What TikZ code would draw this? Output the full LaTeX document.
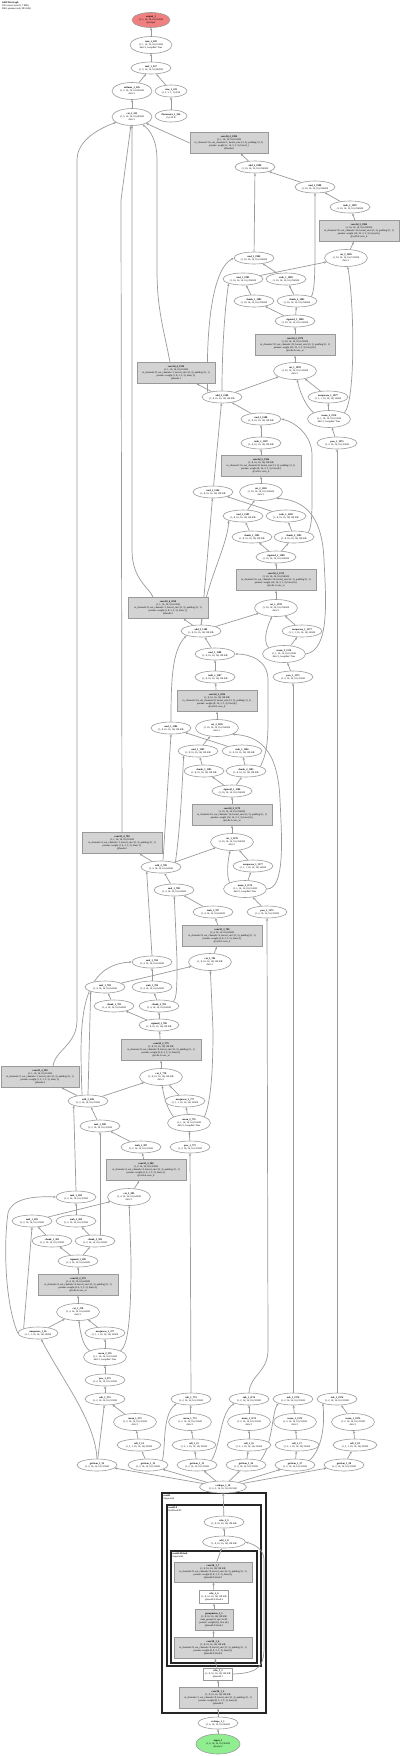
\documentclass[tikz,border=0pt]{standalone}
\usepackage{fontspec}
\setmainfont{Liberation Serif}
\usetikzlibrary{shapes.geometric,arrows.meta}
\definecolor{eg}{HTML}{9A9A9A}
\definecolor{bf}{HTML}{D3D3D3}
\definecolor{bd}{HTML}{999999}
\definecolor{outred}{HTML}{F08080}
\definecolor{ingreen}{HTML}{90EE90}
\pgfdeclarelayer{bg}
\pgfsetlayers{bg,main}
\newcommand{\nd}[2]{\textbf{#1}\\#2}
\newcommand{\cv}[5]{\textbf{#1}\\#2\\in\_channels=#3, out\_channels=#4, kernel\_size=(3, 3), padding=(1, 1)\\params: weight (#4, #3, 3, 3, 3), bias (#4,)\\#5}
\newcommand{\shAa}{(1, 16, 16, 16, 16) 256 KB}
\newcommand{\shAb}{(1, 32, 16, 16, 16) 512 KB}
\newcommand{\shBa}{(1, 8, 16, 16, 16) 128 KB}
\newcommand{\shBb}{(1, 16, 16, 16, 16) 256 KB}
\newcommand{\shCa}{(1, 4, 16, 16, 16) 64 KB}
\newcommand{\shCb}{(1, 8, 16, 16, 16) 128 KB}
\newcommand{\shEa}{(1, 2, 16, 16, 16) 32 KB}
\newcommand{\shEb}{(1, 4, 16, 16, 16) 64 KB}
\newcommand{\shM}{(1, 1, 16, 16, 16) 16 KB}
\newcommand{\shU}{(1, 1, 1, 16, 16, 16) 16 KB}
\newcommand{\shP}{(1, 2, 16, 16, 16) 32 KB}
\tikzset{
  every node/.style={font=\fontsize{2.5}{3}\selectfont},
  ell/.style={ellipse, draw=eg, fill=white, line width=0.6pt, minimum width=40, minimum height=12, inner sep=0pt, align=center},
  ellw/.style={ell, minimum width=44},
  ell3/.style={ell, minimum width=43, minimum height=17},
  gbox/.style={rectangle, draw=bd, fill=bf, line width=0.6pt, minimum width=80, minimum height=21, inner sep=0pt, align=center},
  wbox/.style={rectangle, draw=eg, fill=white, line width=0.6pt, minimum width=29, minimum height=13, inner sep=0.5pt, align=center},
  edge/.style={draw=eg, line width=0.7pt, -{Stealth[length=2.6pt,width=2.2pt]}},
  clus/.style={draw=black!85, line width=1.1pt},
  lab/.style={anchor=north west, align=left, inner sep=0pt},
}
\begin{document}
\begin{tikzpicture}[x=1pt,y=-1pt]
\useasboundingbox (0,0) rectangle (400,1756);
\node[lab] (hdr) at (2,2) {\textbf{GRUNetGraph}\\226 tensors total (1.7 MB)\\9865 params total (38.5 KB)};
% final stack
\node[ell, fill=outred, minimum width=38, minimum height=15] (out) at (151,20) {\nd{output\_1}{\shM}\\@output};
\node[ell3, minimum width=42] (sumT) at (151,45) {\nd{sum\_1\_228}{\shM}\\dim=1, keepdim=True};
\node[ell] (addT) at (151,68) {\nd{mul\_1\_227}{(1, 5, 16, 16, 16) 80 KB}};
\node[ell3, minimum width=40] (soft) at (132,91) {\nd{softmax\_1\_226}{(1, 5, 16, 16, 16) 80 KB}\\dim=1};
\node[ell, minimum width=32] (viewR) at (171,91) {\nd{view\_1\_225}{(1, 5, 1, 1, 1) 20 B}};
\node[ell, minimum width=32] (param) at (171,116) {\nd{Parameter\_1\_224}{(5,) 20 B}};
\node[ell3, minimum width=40] (catF) at (132,117) {\nd{cat\_2\_223}{(1, 5, 16, 16, 16) 80 KB}\\dim=1};
% level 1
\node[gbox, minimum width=78] (H1) at (229,143) {\cv{conv3d\_4\_1990}{\shM}{16}{1}{@heads.0}};
\node[ell] (A1) at (255,167) {\nd{add\_2\_1989}{\shAa}};
\node[ell] (MZ1) at (315,187) {\nd{mul\_1\_1988}{\shAa}};
\node[ell] (TO1) at (350,207) {\nd{tanh\_1\_1987}{\shAa}};
\node[gbox] (CO1) at (359,231) {\cv{conv3d\_3\_1986}{\shAa}{32}{16}{@cells.0.conv\_h}};
\node[ell3] (CTO1) at (346,258) {\nd{cat\_2\_1985}{\shAb}\\dim=1};
\node[ell] (MC1) at (254,258) {\nd{mul\_1\_1984}{\shAa}};
\node[ell] (MR1) at (243,279) {\nd{mul\_1\_1983}{\shAa}};
\node[ell] (RS1) at (286,279) {\nd{rsub\_1\_1982}{\shAa}};
\node[ell] (CH11) at (254,301) {\nd{chunk\_1\_1981}{\shAa}};
\node[ell] (CH21) at (297,301) {\nd{chunk\_2\_1981}{\shAa}};
\node[ell] (SG1) at (295,321) {\nd{sigmoid\_1\_1980}{\shAb}};
\node[gbox] (GC1) at (295,345) {\cv{conv3d\_2\_1979}{\shAb}{32}{32}{@cells.0.conv\_zr}};
\node[ell3] (CT11) at (295,371) {\nd{cat\_1\_1978}{\shAb}\\dim=1};
\node[ell] (UQ1) at (328,397) {\nd{unsqueeze\_1\_1977}{\shU}};
\node[ell3] (MN1) at (329,419) {\nd{mean\_2\_1976}{\shM}\\dim=1, keepdim=True};
\node[ell] (PW1) at (337,443) {\nd{pow\_1\_1975}{\shP}};
% level 2
\node[gbox, minimum width=78] (H2) at (176,373) {\cv{conv3d\_4\_1590}{\shM}{8}{1}{@heads.1}};
\node[ell] (A2) at (222,397) {\nd{add\_2\_1589}{\shBa}};
\node[ell] (MZ2) at (261,419) {\nd{mul\_1\_1588}{\shBa}};
\node[ell] (TO2) at (261,443) {\nd{tanh\_1\_1587}{\shBa}};
\node[gbox] (CO2) at (261,466) {\cv{conv3d\_3\_1586}{\shBa}{16}{8}{@cells.1.conv\_h}};
\node[ell3] (CTO2) at (261,492) {\nd{cat\_2\_1585}{\shBb}\\dim=1};
\node[ell] (MC2) at (213,492) {\nd{mul\_1\_1584}{\shBa}};
\node[ell] (MR2) at (243,516) {\nd{mul\_1\_1583}{\shBa}};
\node[ell] (RS2) at (286,516) {\nd{rsub\_1\_1582}{\shBa}};
\node[ell] (CH12) at (252,537) {\nd{chunk\_1\_1581}{\shBa}};
\node[ell] (CH22) at (294,537) {\nd{chunk\_2\_1581}{\shBa}};
\node[ell] (SG2) at (276,557) {\nd{sigmoid\_1\_1580}{\shBb}};
\node[gbox] (GC2) at (276,580) {\cv{conv3d\_2\_1579}{\shBb}{16}{16}{@cells.1.conv\_zr}};
\node[ell3] (CT12) at (276,608) {\nd{cat\_1\_1578}{\shBb}\\dim=1};
\node[ell] (UQ2) at (302,631) {\nd{unsqueeze\_1\_1577}{\shU}};
\node[ell3] (MN2) at (284,654) {\nd{mean\_2\_1576}{\shM}\\dim=1, keepdim=True};
\node[ell] (PW2) at (293,677) {\nd{pow\_1\_1575}{\shP}};
% level 3
\node[gbox] (H3) at (168,608) {\cv{conv3d\_4\_1190}{\shM}{8}{1}{@heads.2}};
\node[ell] (A3) at (201,631) {\nd{add\_2\_1189}{\shCb}};
\node[ell] (MZ3) at (215,654) {\nd{mul\_1\_1188}{\shCb}};
\node[ell] (TO3) at (215,677) {\nd{tanh\_1\_1187}{\shCb}};
\node[gbox] (CO3) at (217,701) {\cv{conv3d\_3\_1186}{\shCb}{16}{8}{@cells.2.conv\_h}};
\node[ell3] (CTO3) at (217,728) {\nd{cat\_2\_1185}{\shBb}\\dim=1};
\node[ell] (MC3) at (171,728) {\nd{mul\_1\_1184}{\shCb}};
\node[ell] (MR3) at (198,751) {\nd{mul\_1\_1183}{\shCb}};
\node[ell] (RS3) at (242,751) {\nd{rsub\_1\_1182}{\shCb}};
\node[ell] (CH13) at (204,771) {\nd{chunk\_1\_1181}{\shCb}};
\node[ell] (CH23) at (246,771) {\nd{chunk\_2\_1181}{\shCb}};
\node[ell] (SG3) at (232,791) {\nd{sigmoid\_1\_1180}{\shBb}};
\node[gbox] (GC3) at (232,815) {\cv{conv3d\_2\_1179}{\shBb}{16}{16}{@cells.2.conv\_zr}};
\node[ell3] (CT13) at (232,842) {\nd{cat\_1\_1178}{\shBb}\\dim=1};
\node[ell] (UQ3) at (253,866) {\nd{unsqueeze\_1\_1177}{\shU}};
\node[ell3] (MN3) at (245,889) {\nd{mean\_2\_1176}{\shM}\\dim=1, keepdim=True};
\node[ell] (PW3) at (267,912) {\nd{pow\_1\_1175}{\shP}};
% level 4
\node[gbox] (H4) at (122,843) {\cv{conv3d\_4\_790}{\shM}{4}{1}{@heads.3}};
\node[ell] (A4) at (161,867) {\nd{add\_2\_789}{\shCa}};
\node[ell] (MZ4) at (174,890) {\nd{mul\_1\_788}{\shCa}};
\node[ell] (TO4) at (213,912) {\nd{tanh\_1\_787}{\shCa}};
\node[gbox] (CO4) at (222,936) {\cv{conv3d\_3\_786}{\shCa}{8}{4}{@cells.3.conv\_h}};
\node[ell3] (CTO4) at (210,962) {\nd{cat\_2\_785}{\shCb}\\dim=1};
\node[ell] (MC4) at (152,962) {\nd{mul\_1\_784}{\shCa}};
\node[ell] (MR4) at (105,987) {\nd{mul\_1\_783}{\shCa}};
\node[ell] (RS4) at (152,987) {\nd{rsub\_1\_782}{\shCa}};
\node[ell] (CH14) at (114,1006) {\nd{chunk\_1\_781}{\shCa}};
\node[ell] (CH24) at (159,1006) {\nd{chunk\_2\_781}{\shCa}};
\node[ell] (SG4) at (159,1025) {\nd{sigmoid\_1\_780}{\shCb}};
\node[gbox] (GC4) at (161,1050) {\cv{conv3d\_2\_779}{\shCb}{8}{8}{@cells.3.conv\_zr}};
\node[ell3] (CT14) at (161,1077) {\nd{cat\_1\_778}{\shCb}\\dim=1};
\node[ell] (UQ4) at (185,1101) {\nd{unsqueeze\_1\_777}{\shU}};
\node[ell3] (MN4) at (189,1123) {\nd{mean\_2\_776}{\shM}\\dim=1, keepdim=True};
\node[ell] (PW4) at (190,1147) {\nd{pow\_1\_775}{\shP}};
% level 5
\node[gbox, minimum width=78] (H5) at (40,1077) {\cv{conv3d\_4\_390}{\shM}{2}{1}{@heads.4}};
\node[ell] (A5) at (88,1101) {\nd{add\_2\_389}{\shEa}};
\node[ell] (MZ5) at (100,1126) {\nd{mul\_1\_388}{\shEa}};
\node[ell] (TO5) at (141,1147) {\nd{tanh\_1\_387}{\shEa}};
\node[gbox] (CO5) at (146,1170) {\cv{conv3d\_3\_386}{\shEa}{4}{2}{@cells.4.conv\_h}};
\node[ell3] (CTO5) at (129,1197) {\nd{cat\_2\_385}{\shEb}\\dim=1};
\node[ell] (MC5) at (76,1197) {\nd{mul\_1\_384}{\shEa}};
\node[ell] (MR5) at (32,1221) {\nd{mul\_1\_383}{\shEa}};
\node[ell] (RS5) at (76,1221) {\nd{rsub\_1\_382}{\shEa}};
\node[ell] (CH15) at (52,1241) {\nd{chunk\_1\_381}{\shEa}};
\node[ell] (CH25) at (95,1241) {\nd{chunk\_2\_381}{\shEa}};
\node[ell] (SG5) at (78,1261) {\nd{sigmoid\_1\_380}{\shEb}};
\node[gbox] (GC5) at (78,1285) {\cv{conv3d\_2\_379}{\shEb}{4}{4}{@cells.4.conv\_zr}};
\node[ell3] (CT15) at (78,1312) {\nd{cat\_1\_378}{\shEb}\\dim=1};
\node[ell] (UQL) at (38,1333) {\nd{unsqueeze\_1\_36}{\shU}};
\node[ell] (UQ5) at (105,1333) {\nd{unsqueeze\_1\_377}{\shU}};
\node[ell3] (MN5) at (105,1357) {\nd{mean\_2\_376}{\shM}\\dim=1, keepdim=True};
\node[ell] (PW5) at (105,1380) {\nd{pow\_1\_375}{\shP}};
% bottom rows
\node[ell] (SB5) at (105,1399) {\nd{sub\_1\_374}{\shP}};
\node[ell] (SB4) at (191,1399) {\nd{sub\_1\_774}{\shP}};
\node[ell] (SB3) at (249,1399) {\nd{sub\_1\_1174}{\shP}};
\node[ell] (SB2) at (293,1399) {\nd{sub\_1\_1574}{\shP}};
\node[ell] (SB1) at (337,1399) {\nd{sub\_1\_1974}{\shP}};
\node[ell3] (M15) at (135,1422) {\nd{mean\_1\_373}{\shP}\\dim=1};
\node[ell3] (M14) at (190,1422) {\nd{mean\_1\_773}{\shP}\\dim=1};
\node[ell3] (M13) at (249,1422) {\nd{mean\_1\_1173}{\shP}\\dim=1};
\node[ell3] (M12) at (295,1422) {\nd{mean\_1\_1573}{\shP}\\dim=1};
\node[ell3] (M11) at (353,1422) {\nd{mean\_1\_1973}{\shP}\\dim=1};
\node[ellw] (CL5) at (139,1445) {\nd{cell\_1\_14}{(1, 2, 1, 16, 16, 16) 32 KB}};
\node[ellw] (CL4) at (194,1445) {\nd{cell\_1\_15}{(1, 2, 1, 16, 16, 16) 32 KB}};
\node[ellw] (CL3) at (249,1445) {\nd{cell\_1\_16}{(1, 2, 1, 16, 16, 16) 32 KB}};
\node[ellw] (CL2) at (297,1445) {\nd{cell\_1\_17}{(1, 2, 1, 16, 16, 16) 32 KB}};
\node[ellw] (CL1) at (355,1445) {\nd{cell\_1\_18}{(1, 2, 1, 16, 16, 16) 32 KB}};
\node[ell] (GI0) at (97,1465) {\nd{getitem\_1\_32}{\shP}};
\node[ell] (GI1) at (148,1465) {\nd{getitem\_1\_12}{\shP}};
\node[ell] (GI2) at (197,1465) {\nd{getitem\_1\_13}{\shP}};
\node[ell] (GI3) at (246,1465) {\nd{getitem\_1\_26}{\shP}};
\node[ell] (GI4) at (295,1465) {\nd{getitem\_1\_27}{\shP}};
\node[ell] (GI5) at (344,1465) {\nd{getitem\_1\_28}{\shP}};
\node[ell, minimum width=47] (RSH) at (223,1487) {\nd{reshape\_1\_10}{(1, 6, 2, 16, 16, 16) 192 KB}};
% cluster nodes
\node[ell] (RL2) at (224,1522) {\nd{relu\_2\_9}{\shBa}};
\node[ell, minimum width=43] (AD1) at (224,1542) {\nd{add\_1\_8}{\shBa}};
\node[gbox, minimum width=78, minimum height=20] (C7) at (213,1572) {\cv{conv3d\_1\_7}{\shBa}{8}{8}{@model.0.block.3}};
\node[wbox] (R6) at (214,1597) {\textbf{relu\_1\_6}\\\shBa\\@model.0.block.2};
\node[gbox, minimum width=38] (GN) at (214,1620) {\textbf{groupnorm\_1\_5}\\\shBa\\num\_groups=4, eps=1e-05\\params: weight (8,), bias (8,)\\@model.0.block.1};
\node[gbox, minimum width=78] (C4) at (213,1648) {\cv{conv3d\_1\_4}{\shBa}{8}{8}{@model.0.block.0}};
\node[wbox, minimum height=12] (R3) at (218,1674) {\textbf{relu\_1\_3}\\\shBa\\@model.1};
\node[gbox, minimum width=78] (C2) at (218,1698) {\cv{conv3d\_1\_2}{\shBa}{1}{8}{@model.0}};
\node[ell] (RSb) at (218,1723) {\nd{reshape\_1\_1}{(1, 6, 16, 16, 16) 96 KB}};
\node[ell, fill=ingreen, minimum width=44, minimum height=20] (IN) at (218,1744) {\nd{input\_1}{(1, 6, 16, 16, 16) 96 KB}\\@input.x};
\node[lab] (cl1) at (163.5,1494.5) {\textbf{model}\\Sequential};
\node[lab] (cl2) at (168.5,1506.5) {\textbf{model.0}\\ResBlock3D};
\node[lab] (cl3) at (172.5,1552.5) {\textbf{model.0.block}\\Sequential};

\begin{pgfonlayer}{bg}
\draw[clus] (162,1493) rectangle (266,1713);
\draw[clus] (167,1505) rectangle (261,1666);
\draw[clus] (171,1551) rectangle (257,1663);
% final
\draw[edge] (catF) -- (soft);
\draw[edge] (soft) -- (addT);
\draw[edge] (param) -- (viewR);
\draw[edge] (viewR) -- (addT);
\draw[edge] (addT) -- (sumT);
\draw[edge] (sumT) -- (out);
\draw[edge] (H1.west) -- (catF);
\draw[edge] ([xshift=-6]H2.north) .. controls (164,330) and (157,310) .. (157,270) -- (157,160) .. controls (157,140) and (150,130) .. (catF);
\draw[edge] ([xshift=-15]H3.north) .. controls (150,588) and (132,580) .. (132,550) -- (catF);
\draw[edge] (H4.north) -- (121,200) -- (catF);
\draw[edge] ([xshift=13]H5.north) .. controls (55,1050) and (77,1045) .. (77,1020) -- (77,160) .. controls (77,140) and (100,128) .. (catF);
% level 1
\draw[edge] (PW1) -- (MN1);
\draw[edge] (MN1) -- (UQ1);
\draw[edge] (MN1.north west) .. controls (305,405) and (300,392) .. (CT11);
\draw[edge] (UQ1) -- (CT11);
\draw[edge] (A2) -- (CT11);
\draw[edge] (CT11) -- (GC1);
\draw[edge] (GC1) -- (SG1);
\draw[edge] (SG1) -- (CH11);
\draw[edge] (SG1) -- (CH21);
\draw[edge] (CH11) -- (MR1);
\draw[edge] (CH21) -- (RS1);
\draw[edge] (RS1) -- (MC1);
\draw[edge] (MR1) -- (CTO1);
\draw[edge] (MN1.north east) .. controls (356,400) and (354,300) .. (CTO1);
\draw[edge] (CTO1) -- (CO1);
\draw[edge] (CO1) -- (TO1);
\draw[edge] (TO1) -- (MZ1);
\draw[edge] (CH21.north east) .. controls (314,292) and (315,280) .. (315,250) -- (MZ1);
\draw[edge] (MZ1) -- (A1);
\draw[edge] (MC1) -- (A1);
\draw[edge] (A1) -- (H1);
\draw[edge] (A2.north) .. controls (222,340) and (226,300) .. (MR1.south west);
\draw[edge] (A2.north west) .. controls (206,340) and (210,270) .. (MC1.west);
% level 2
\draw[edge] (PW2) -- (MN2);
\draw[edge] (MN2) -- (UQ2);
\draw[edge] (MN2.north west) .. controls (262,640) and (268,625) .. (CT12);
\draw[edge] (UQ2) -- (CT12);
\draw[edge] (A3) -- (CT12);
\draw[edge] (CT12) -- (GC2);
\draw[edge] (GC2) -- (SG2);
\draw[edge] (SG2) -- (CH12);
\draw[edge] (SG2) -- (CH22);
\draw[edge] (CH12) -- (MR2);
\draw[edge] (CH22) -- (RS2);
\draw[edge] (RS2) -- (MC2);
\draw[edge] (MR2) -- (CTO2);
\draw[edge] (MN2.east) .. controls (330,650) and (326,600) .. (324,560) .. controls (322,510) and (300,500) .. (CTO2.south east);
\draw[edge] (CTO2) -- (CO2);
\draw[edge] (CO2) -- (TO2);
\draw[edge] (TO2) -- (MZ2);
\draw[edge] (CH22.north east) .. controls (312,525) and (312,515) .. (312,490) -- (312,455) .. controls (312,435) and (295,422) .. (MZ2.east);
\draw[edge] (MZ2) -- (A2);
\draw[edge] (MC2) -- (A2);
\draw[edge] (A2) -- (H2);
\draw[edge] (A3.north) .. controls (205,585) and (228,545) .. (MR2.south west);
\draw[edge] (A3) -- (MC2);
% level 3
\draw[edge] (PW3) -- (MN3);
\draw[edge] (MN3) -- (UQ3);
\draw[edge] (MN3.north west) .. controls (226,875) and (228,860) .. (CT13);
\draw[edge] (UQ3) -- (CT13);
\draw[edge] (A4) -- (CT13);
\draw[edge] (CT13) -- (GC3);
\draw[edge] (GC3) -- (SG3);
\draw[edge] (SG3) -- (CH13);
\draw[edge] (SG3) -- (CH23);
\draw[edge] (CH13) -- (MR3);
\draw[edge] (CH23) -- (RS3);
\draw[edge] (RS3) -- (MC3);
\draw[edge] (MR3) -- (CTO3);
\draw[edge] (MN3.east) .. controls (285,889) and (282,840) .. (280,800) .. controls (278,750) and (260,736) .. (CTO3.south east);
\draw[edge] (CTO3) -- (CO3);
\draw[edge] (CO3) -- (TO3);
\draw[edge] (TO3) -- (MZ3);
\draw[edge] (CH23.north east) .. controls (266,755) and (268,745) .. (268,720) -- (268,680) .. controls (268,660) and (250,654) .. (MZ3.east);
\draw[edge] (MZ3) -- (A3);
\draw[edge] (A3) -- (H3);
\draw[edge] (MC3.north) .. controls (171,680) and (172,650) .. (A3.south west);
\draw[edge] (A4.north east) .. controls (180,830) and (182,790) .. (MR3.south west);
\draw[edge] ([xshift=2]A4.north) -- (MC3.south);
% level 4
\draw[edge] (PW4) -- (MN4);
\draw[edge] (MN4) -- (UQ4);
\draw[edge] (MN4.north west) .. controls (168,1110) and (164,1098) .. (CT14);
\draw[edge] (UQ4) -- (CT14);
\draw[edge] (A5) -- (CT14);
\draw[edge] (CT14) -- (GC4);
\draw[edge] (GC4) -- (SG4);
\draw[edge] (SG4) -- (CH14);
\draw[edge] (SG4) -- (CH24);
\draw[edge] (CH14) -- (MR4);
\draw[edge] (CH24) -- (RS4);
\draw[edge] (RS4) -- (MC4);
\draw[edge] (MR4) -- (CTO4);
\draw[edge] (MN4.north east) .. controls (212,1100) and (213,1060) .. (213,1030) -- (CTO4);
\draw[edge] (CTO4) -- (CO4);
\draw[edge] (CO4) -- (TO4);
\draw[edge] (TO4) -- (MZ4);
\draw[edge] (CH24.north east) .. controls (177,998) and (177,985) .. (177,960) -- (MZ4);
\draw[edge] (MZ4) -- (A4);
\draw[edge] (A4) -- (H4);
\draw[edge] (MC4.north) -- (A4.south west);
\draw[edge] (A5.north) -- (MR4.south west);
\draw[edge] ([xshift=-6]A5.north) .. controls (80,1030) and (76,965) .. (MC4.west);
% level 5
\draw[edge] (PW5) -- (MN5);
\draw[edge] (MN5) -- (UQ5);
\draw[edge] (MN5.north west) .. controls (82,1345) and (80,1330) .. (CT15);
\draw[edge] (UQ5) -- (CT15);
\draw[edge] (UQL) -- (CT15);
\draw[edge] (CT15) -- (GC5);
\draw[edge] (GC5) -- (SG5);
\draw[edge] (SG5) -- (CH15);
\draw[edge] (SG5) -- (CH25);
\draw[edge] (CH15) -- (MR5);
\draw[edge] (CH25) -- (RS5);
\draw[edge] (RS5) -- (MC5);
\draw[edge] (MR5) -- (CTO5);
\draw[edge] (MN5.north east) .. controls (130,1345) and (131,1300) .. (131,1260) -- (CTO5);
\draw[edge] (CTO5) -- (CO5);
\draw[edge] (CO5) -- (TO5);
\draw[edge] (TO5) -- (MZ5);
\draw[edge] ([xshift=5]CH25.north) -- (MZ5);
\draw[edge] (MZ5) -- (A5);
\draw[edge] (A5) -- (H5);
\draw[edge] (MC5.north) -- (A5.south west);
\draw[edge] (UQL.north west) -- (MR5.south);
\draw[edge] (UQL.west) .. controls (4,1300) and (4,1240) .. (8,1213) .. controls (12,1198) and (35,1196) .. (MC5.west);
\draw[edge] (GI0.north) .. controls (95,1420) and (62,1380) .. (UQL);
% bottom
\draw[edge] (SB1) -- (PW1);
\draw[edge] (SB2) -- (PW2);
\draw[edge] (SB3.north) .. controls (250,1375) and (268,1372) .. (268,1350) -- (PW3);
\draw[edge] (SB4) -- (PW4);
\draw[edge] (SB5) -- (PW5);
\draw[edge] (M11) -- (SB1);
\draw[edge] (M12) -- (SB2);
\draw[edge] (M13) -- (SB3);
\draw[edge] (M14) -- (SB4);
\draw[edge] (M15) -- (SB5);
\draw[edge] (CL1) -- (M11);
\draw[edge] (CL2) -- (M12);
\draw[edge] (CL3) -- (M13);
\draw[edge] (CL4) -- (M14);
\draw[edge] (CL5) -- (M15);
\draw[edge] (GI1) -- (CL5);
\draw[edge] (GI2) -- (CL4);
\draw[edge] (GI3) -- (CL3);
\draw[edge] (GI4) -- (CL2);
\draw[edge] (GI5) -- (CL1);
\draw[edge] (GI0) -- (SB5);
\draw[edge] (GI1.north east) .. controls (166,1445) and (162,1415) .. (SB4.south west);
\draw[edge] (GI2.north east) .. controls (221,1445) and (220,1412) .. (SB3.south west);
\draw[edge] (GI3.north east) .. controls (273,1445) and (272,1410) .. (SB2.south west);
\draw[edge] (GI4.north east) .. controls (326,1445) and (324,1412) .. (SB1.south west);
\draw[edge] (RSH) -- (GI0);
\draw[edge] (RSH) -- (GI1);
\draw[edge] (RSH) -- (GI2);
\draw[edge] (RSH) -- (GI3);
\draw[edge] (RSH) -- (GI4);
\draw[edge] (RSH) -- (GI5);
\draw[edge] (RL2) -- (RSH);
\draw[edge] (AD1) -- (RL2);
\draw[edge] (C7) -- (AD1);
\draw[edge] (R6) -- (C7);
\draw[edge] (GN) -- (R6);
\draw[edge] (C4) -- (GN);
\draw[edge] (R3) -- (C4);
\draw[edge] (C2) -- (R3);
\draw[edge] (RSb) -- (C2);
\draw[edge] (IN) -- (RSb);
\draw[edge] (R3.east) .. controls (262,1673) and (264,1664) .. (264,1645) -- (264,1560) .. controls (264,1550) and (256,1545) .. (AD1.east);
\end{pgfonlayer}
\end{tikzpicture}
\end{document}
